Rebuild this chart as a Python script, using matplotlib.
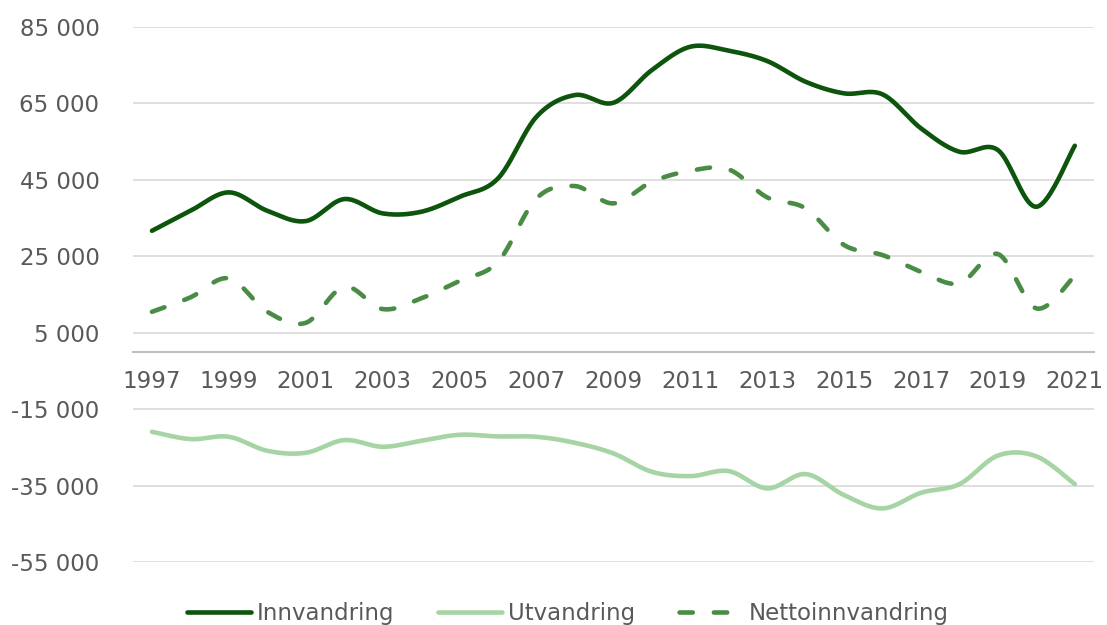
import numpy as np
import matplotlib
matplotlib.use("Agg")
import matplotlib.pyplot as plt
from matplotlib.ticker import FuncFormatter

years = list(range(1997, 2022))
innvandring = [31650, 36880, 41690, 36880, 34190, 39940, 36200, 36620, 40540, 45350,
               61460, 67130, 65120, 73660, 79760, 78710, 76020, 70600, 67570, 67310,
               58420, 52310, 52750, 37930, 53880]
utvandring = [-20880, -22790, -22190, -25850, -26370, -23060, -24800, -23230, -21670, -22100,
              -22190, -23760, -26540, -31340, -32470, -31160, -35680, -31940, -37430, -40920,
              -36830, -34560, -27100, -27300, -34560]
netto = [10480, 14250, 19210, 10480, 7600, 17020, 11190, 13990, 18590, 23550,
         40120, 43340, 38820, 44470, 47340, 47700, 40380, 37510, 27920, 25300,
         20940, 17910, 25570, 11370, 19900]

labels = ["Innvandring", "Utvandring", "Nettoinnvandring"]
colors = ["#0d540d", "#a6d4a4", "#4a8c45"]


def smooth(x, y, steps=24):
    # Excel-style smoothed line: Catmull-Rom segments as cubic Bezier
    x = np.asarray(x, dtype=float)
    y = np.asarray(y, dtype=float)
    pts = np.column_stack([x, y])
    n = len(pts)
    out = []
    t = np.linspace(0, 1, steps, endpoint=False)[:, None]
    for i in range(n - 1):
        p0 = pts[i - 1] if i > 0 else pts[i]
        p1 = pts[i]
        p2 = pts[i + 1]
        p3 = pts[i + 2] if i + 2 < n else pts[i + 1]
        c1 = p1 + (p2 - p0) / 6.0
        c2 = p2 - (p3 - p1) / 6.0
        seg = ((1 - t) ** 3) * p1 + 3 * ((1 - t) ** 2) * t * c1 + 3 * (1 - t) * t ** 2 * c2 + t ** 3 * p2
        out.append(seg)
    out.append(pts[-1][None, :])
    out = np.vstack(out)
    return out[:, 0], out[:, 1]


plt.rcParams['font.family'] = ['DejaVu Sans']

fig = plt.figure(figsize=(11.07, 6.25), dpi=100)
ax = fig.add_axes([0.1199, 0.1003, 0.8684, 0.857])

series = [innvandring, utvandring, netto]
for vals, lab, col in zip(series, labels, colors):
    sx, sy = smooth(years, vals)
    if lab == "Nettoinnvandring":
        ax.plot(sx, sy, color=col, lw=3.3, ls=(0, (2.9, 4.6)), dash_capstyle='round',
                solid_capstyle='round', label=lab)
    else:
        ax.plot(sx, sy, color=col, lw=3.3, solid_capstyle='round', label=lab)

ax.set_xlim(1996.5, 2021.5)
ax.set_ylim(-55000, 85000)
yt = list(range(-55000, 85001, 20000))
ax.set_yticks(yt)
ax.yaxis.set_major_formatter(FuncFormatter(lambda v, p: f"{int(v):,}".replace(",", " ")))
ax.set_xticks(years[::2])
ax.grid(axis='y', color='#d9d9d9', lw=1.2)
ax.set_axisbelow(True)

for s in ['top', 'right', 'left']:
    ax.spines[s].set_visible(False)
ax.spines['bottom'].set_position(('data', 0))
ax.spines['bottom'].set_color('#bfbfbf')
ax.spines['bottom'].set_linewidth(1.5)

ax.tick_params(axis='both', length=0, labelsize=16.5, labelcolor='#595959')
ax.tick_params(axis='x', pad=13)
ax.tick_params(axis='y', pad=24)

fig.legend(loc='center', bbox_to_anchor=(0.513, 0.018), ncol=3, frameon=False,
           fontsize=16.5, handlelength=2.8, handletextpad=0.25, columnspacing=1.9,
           labelcolor='#595959')

fig.savefig("out.png", dpi=100)
